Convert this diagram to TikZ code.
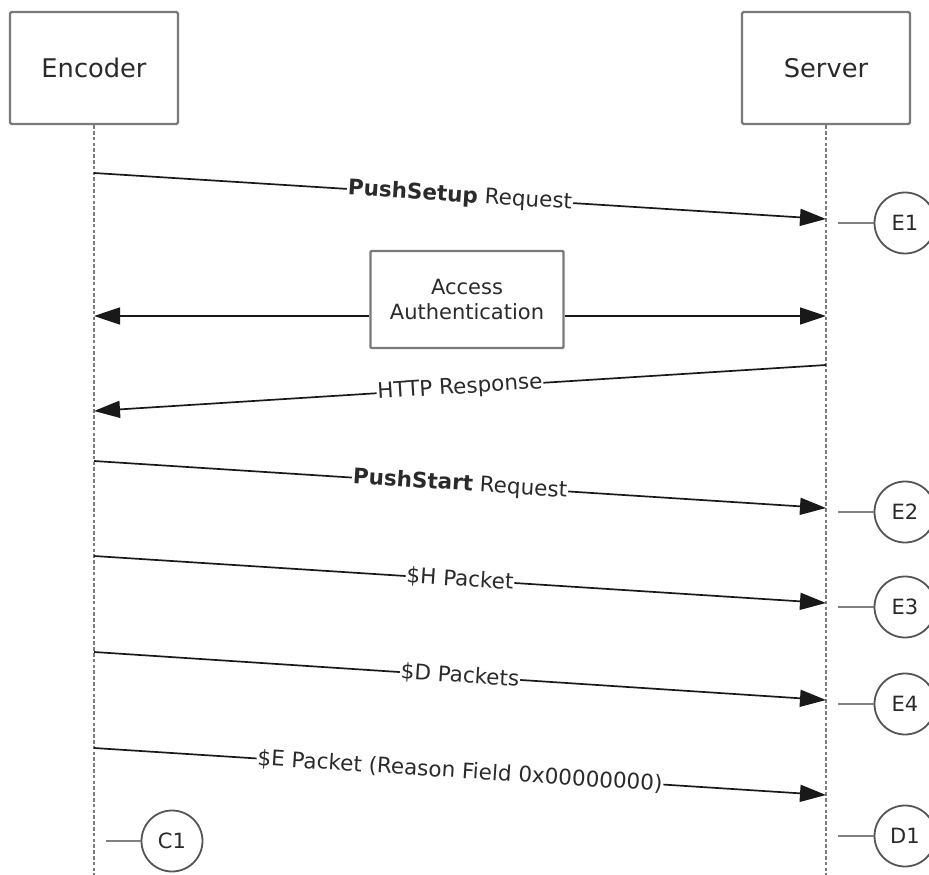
\documentclass[tikz,border=0pt]{standalone}
\usepackage{fontspec}
\setmainfont{DejaVu Sans}
\usetikzlibrary{arrows.meta}
\definecolor{boxgray}{HTML}{7A7A7A}
\definecolor{circgray}{HTML}{555555}
\definecolor{lifegray}{HTML}{7C7C7C}
\definecolor{txt}{HTML}{2A2A2A}
\begin{document}
\begin{tikzpicture}[x=1pt,y=-1pt,
  actor/.style={draw=boxgray, line width=2.2pt, rounded corners=1.5pt, minimum width=168pt, minimum height=112pt, inner sep=0pt, font=\fontsize{25.7}{30}\selectfont, text=txt},
  authbox/.style={draw=boxgray, line width=2.2pt, rounded corners=1pt, minimum width=193pt, minimum height=97pt, inner sep=0pt, align=center, font=\fontsize{21}{25}\selectfont, text=txt},
  life/.style={draw=lifegray, line width=2.8pt, dash pattern=on 3.6pt off 2.2pt},
  msg/.style={draw=black!90, line width=1.7pt, -{Triangle[length=26pt,width=17pt]}},
  lbl/.style={midway, sloped, fill=white, inner sep=1pt, font=\fontsize{21.5}{24}\selectfont, text=txt},
  stateC/.style={circle, draw=circgray, line width=1.8pt, minimum size=61pt, inner sep=0pt, font=\fontsize{21}{24}\selectfont, text=txt},
  tickln/.style={draw=gray, line width=2.4pt}]
\useasboundingbox (0,0) rectangle (929,875);
\clip (0,0) rectangle (929,875);
% actors
\node[actor] (enc) at (94,68) {Encoder};
\node[actor] (srv) at (826,68) {Server};
\coordinate (encEnd) at (94,875);
\coordinate (srvEnd) at (826,875);
\draw[life] (enc.south) -- (encEnd);
\draw[life] (srv.south) -- (srvEnd);
% lifeline points
\coordinate (m1s) at (94,173);  \coordinate (m1e) at (826,219);
\coordinate (aL)  at (94,316);  \coordinate (aR)  at (826,316);
\coordinate (m3s) at (826,365); \coordinate (m3e) at (94,411);
\coordinate (m4s) at (94,461);  \coordinate (m4e) at (826,508);
\coordinate (m5s) at (94,556);  \coordinate (m5e) at (826,603);
\coordinate (m6s) at (94,652);  \coordinate (m6e) at (826,700);
\coordinate (m7s) at (94,748);  \coordinate (m7e) at (826,795);
% messages
\draw[msg] (m1s) -- node[lbl] {\textbf{PushSetup} Request} (m1e);
\node[authbox] (auth) at (467,299.5) {Access\\Authentication};
\draw[msg] (auth.west |- aL) -- (aL);
\draw[msg] (auth.east |- aR) -- (aR);
\draw[msg] (m3s) -- node[lbl] {HTTP Response} (m3e);
\draw[msg] (m4s) -- node[lbl] {\textbf{PushStart} Request} (m4e);
\draw[msg] (m5s) -- node[lbl] {\$H Packet} (m5e);
\draw[msg] (m6s) -- node[lbl] {\$D Packets} (m6e);
\draw[msg] (m7s) -- node[lbl] {\$E Packet (Reason Field 0x00000000)} (m7e);
% state markers
\node[stateC] (e1) at (905,223) {E1};
\node[stateC] (e2) at (905,512) {E2};
\node[stateC] (e3) at (905,607) {E3};
\node[stateC] (e4) at (905,704) {E4};
\node[stateC] (d1) at (905,836) {D1};
\node[stateC] (c1) at (172,841) {C1};
\coordinate (t1) at (838,223);
\coordinate (t2) at (838,512);
\coordinate (t3) at (838,607);
\coordinate (t4) at (838,704);
\coordinate (t5) at (838,836);
\coordinate (t6) at (106,841);
\draw[tickln] (t1) -- (e1.west);
\draw[tickln] (t2) -- (e2.west);
\draw[tickln] (t3) -- (e3.west);
\draw[tickln] (t4) -- (e4.west);
\draw[tickln] (t5) -- (d1.west);
\draw[tickln] (t6) -- (c1.west);
\end{tikzpicture}
\end{document}
